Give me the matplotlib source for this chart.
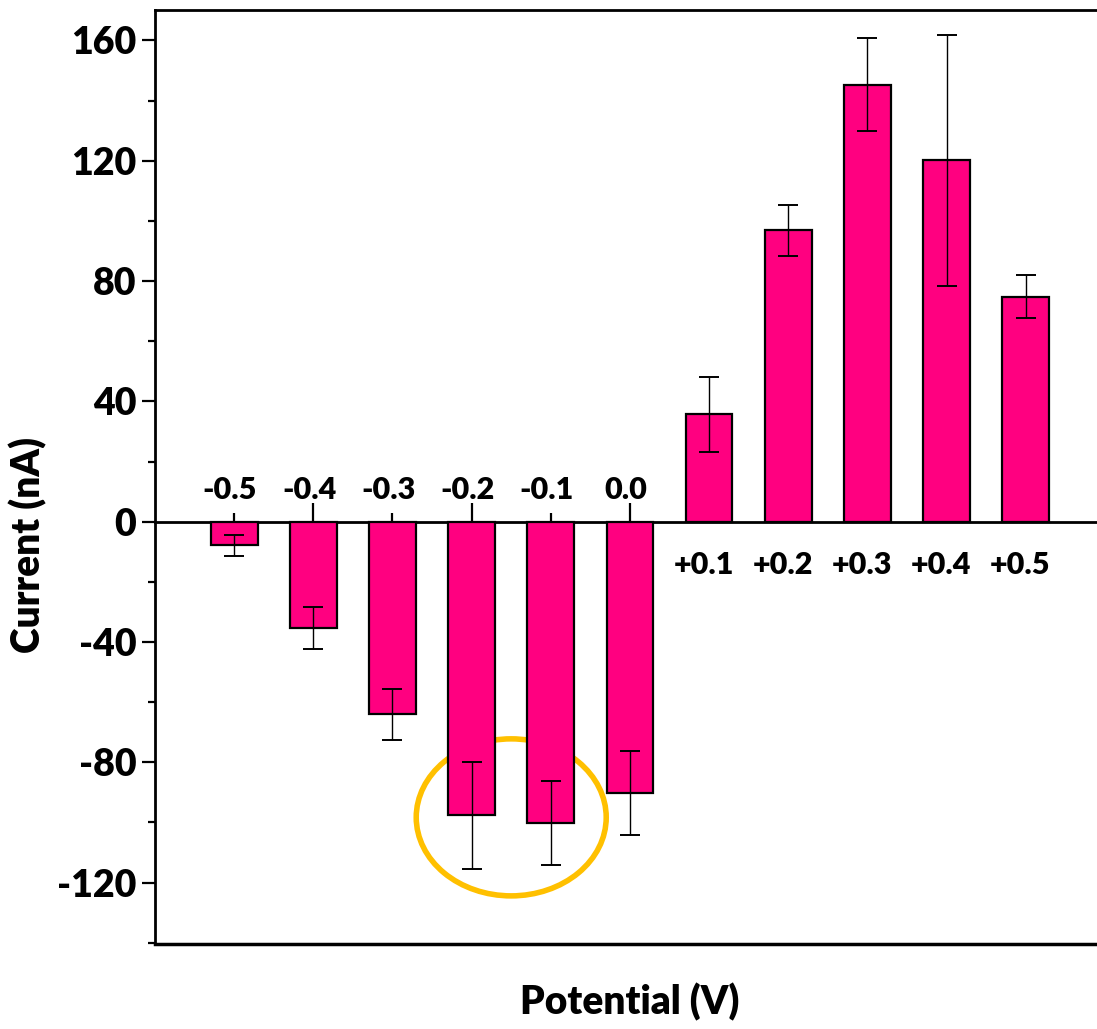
import numpy as np
import matplotlib.pyplot as plt
from matplotlib.patches import Ellipse
from matplotlib.ticker import FixedLocator, MultipleLocator

plt.rcParams['axes.unicode_minus'] = False

# Data
potentials = ['-0.5', '-0.4', '-0.3', '-0.2', '-0.1', '0.0',
              '+0.1', '+0.2', '+0.3', '+0.4', '+0.5']
current = [-7.8, -35.4, -64.1, -97.6, -100.2, -90.2,
           35.7, 96.9, 145.3, 120.2, 74.8]
current_err = [3.5, 7.0, 8.6, 17.8, 14.0, 14.1,
               12.5, 8.5, 15.4, 41.7, 7.1]

bar_color = '#FF0080'
font = 'Lato'

fig = plt.figure(figsize=(10.97, 10.29), dpi=100)
ax = fig.add_axes([0.1413, 0.0823, 1.0 - 0.1413, 0.990 - 0.0823])

x = np.arange(len(potentials))
ax.bar(x, current, width=0.59, color=bar_color, edgecolor='black',
       linewidth=1.6, zorder=3)
ax.errorbar(x, current, yerr=current_err, fmt='none', ecolor='black',
            elinewidth=1.0, capsize=7.5, capthick=1.4, zorder=4)

# orange highlight around -0.2 / -0.1
ell = Ellipse((3.5, -98.3), 2.40, 52.2, fill=False, edgecolor='#FFC000',
              linewidth=4.0, zorder=2)
ax.add_patch(ell)

ax.set_xlim(-1.0, 10.9)
ax.set_ylim(-140.5, 170)

# frame: left + top, bottom spine moved to zero, outer bottom line
ax.spines['right'].set_visible(False)
ax.spines['bottom'].set_position(('data', 0))
for s in ['left', 'top', 'bottom']:
    ax.spines[s].set_linewidth(2.0)
ax.axhline(ax.get_ylim()[0], color='black', linewidth=2.5, clip_on=False,
           zorder=5)

ax.xaxis.set_major_locator(FixedLocator([1, 3, 5, 7, 9]))
ax.xaxis.set_minor_locator(FixedLocator([0, 2, 4, 6, 8, 10]))
ax.tick_params(axis='x', which='major', direction='in', length=13.5,
               width=1.6, labelbottom=False, top=False)
ax.tick_params(axis='x', which='minor', direction='in', length=6.7,
               width=1.6, top=False)

ax.yaxis.set_major_locator(MultipleLocator(40))
ax.yaxis.set_minor_locator(MultipleLocator(20))
ax.tick_params(axis='y', which='major', direction='out', length=9.5,
               width=1.6, pad=4)
ax.tick_params(axis='y', which='minor', direction='out', length=5,
               width=1.6)
for lab in ax.get_yticklabels():
    lab.set_family(font)
    lab.set_fontweight('heavy')
    lab.set_fontsize(27)

# category labels: above the axis for negative bars, below for positive
for xi, lab, val in zip(x, potentials, current):
    if val < 0:
        ax.annotate(lab, (xi, 0), xytext=(-3, 16.5), textcoords='offset points',
                    ha='center', va='baseline', fontsize=22,
                    fontweight='heavy', family=font)
    else:
        ax.annotate(lab, (xi, 0), xytext=(-4, -21), textcoords='offset points',
                    ha='center', va='top', fontsize=22,
                    fontweight='heavy', family=font)

ax.set_ylabel('Current (nA)', fontsize=28, fontweight='heavy', family=font)
ax.yaxis.set_label_coords(-0.135, 0.427)
ax.yaxis.label.set_va('center')
ax.set_xlabel('Potential (V)', fontsize=28, fontweight='heavy', family=font)
ax.xaxis.set_label_coords(0.504, -0.062)
ax.xaxis.label.set_va('center')

fig.savefig('out.png', dpi=100)
